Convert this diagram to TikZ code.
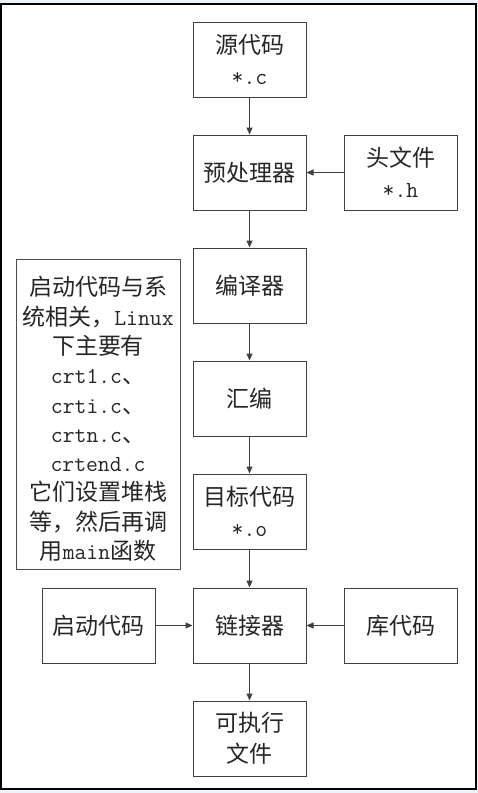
\documentclass[tikz,border=0pt]{standalone}
\usepackage{fontspec}
\newfontfamily\cjk{Noto Sans CJK SC}
\newcommand\mono{\ttfamily}
\usetikzlibrary{arrows.meta}
\definecolor{bgblue}{RGB}{238,243,250}
\begin{document}
\begin{tikzpicture}[x=1pt,y=-1pt,
  box/.style={draw=black!75, line width=1pt, fill=white, minimum width=113pt,
    minimum height=75pt, inner sep=0pt, align=center, text=black!85,
    font=\fontsize{23}{31}\selectfont\cjk},
  notebox/.style={draw=black!70, line width=1pt, fill=white, minimum width=164pt,
    minimum height=310pt, inner sep=0pt},
  notetext/.style={align=center, inner sep=0pt, text=black!85,
    font=\fontsize{23}{29.3}\selectfont\cjk},
  arr/.style={draw=black!75, line width=1pt, -{Triangle[length=7pt,width=6pt]}}]
\useasboundingbox (0,0) rectangle (478,793);
\fill[bgblue] (0,0) rectangle (478,793);
\draw[line width=1.3pt, fill=white] (1,4) rectangle (476,789);

\node[box] (src) at (249.5,59.5) {源代码\\{\mono *.c}};
\node[box] (pre) at (249.5,172.5) {预处理器};
\node[box] (hdr) at (400.5,172.5) {头文件\\{\mono *.h}};
\node[box] (cmp) at (249.5,285.5) {编译器};
\node[box] (asm) at (249.5,398.5) {汇编};
\node[box] (obj) at (249.5,511.5) {目标代码\\{\mono *.o}};
\node[box] (lnk) at (249.5,625.5) {链接器};
\node[box] (start) at (98.5,625.5) {启动代码};
\node[box] (lib) at (400.5,625.5) {库代码};
\node[box] (exe) at (249.5,738.5) {可执行\\文件};

\node[notebox] (note) at (98,414) {};
\node[notetext] (notet) at (98,419) {启动代码与系\\统相关，{\mono Linux}\\下主要有\\{\mono crt1.c}、\\{\mono crti.c}、\\{\mono crtn.c}、\\{\mono crtend.c}\\它们设置堆栈\\等，然后再调\\用{\mono main}函数};

\draw[arr] (src) -- (pre);
\draw[arr] (hdr) -- (pre);
\draw[arr] (pre) -- (cmp);
\draw[arr] (cmp) -- (asm);
\draw[arr] (asm) -- (obj);
\draw[arr] (obj) -- (lnk);
\draw[arr] (start) -- (lnk);
\draw[arr] (lib) -- (lnk);
\draw[arr] (lnk) -- (exe);
\end{tikzpicture}
\end{document}
